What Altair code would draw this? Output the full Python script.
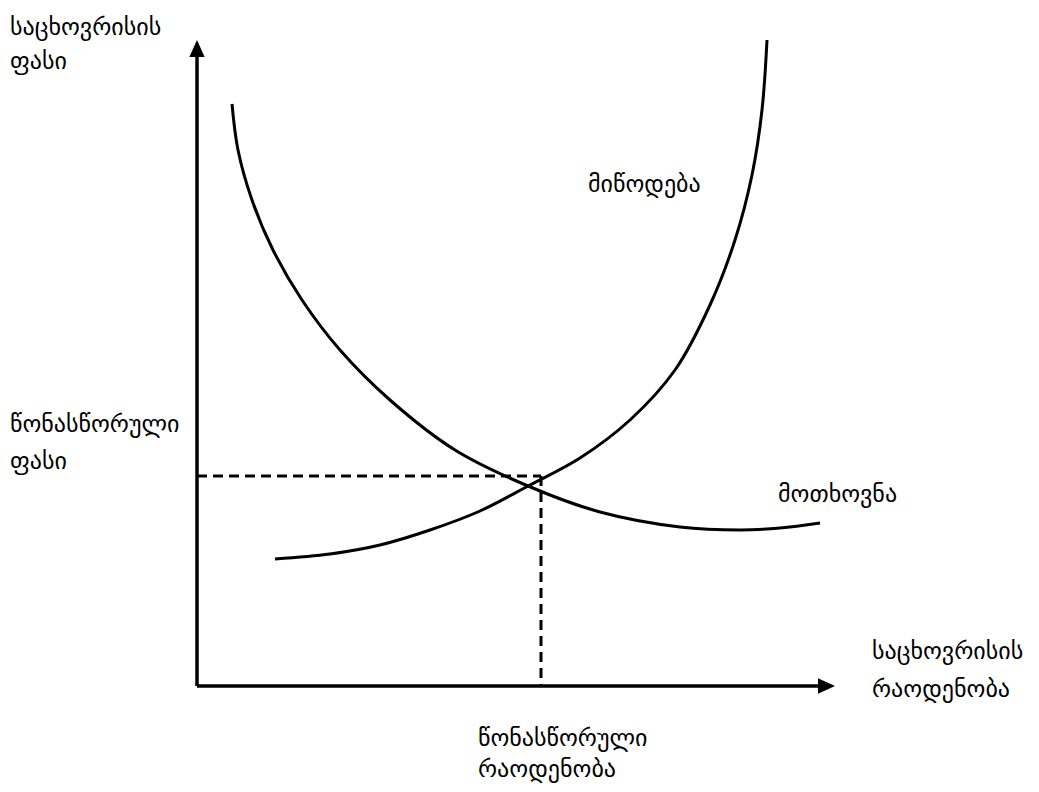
import altair as alt
import pandas as pd

# Coordinates: quantity (q) and price (p) (units ≈ pixels from origin)
supply_q = [78, 133, 183, 233, 283, 331, 383, 433, 478, 513, 538, 555, 565, 570]
supply_p = [127, 132, 141, 156, 175, 200, 228, 266, 316, 381, 446, 511, 576, 646]

demand_q = [35, 41, 55, 76, 105, 143, 193, 258, 331, 403, 483, 543, 583, 623]
demand_p = [582, 536, 486, 436, 386, 336, 286, 236, 200, 174, 159, 156, 158, 163]

eq_q = 344
eq_p = 210

axis_x_end = 621
axis_y_end = 629

label_text = ["საცხოვრისის", "ფასი", "წონასწორული", "ფასი", "მიწოდება", "მოთხოვნა",
              "საცხოვრისის", "რაოდენობა", "წონასწორული", "რაოდენობა"]
label_q = [-187, -187, -187, -187, 391, 581, 675, 675, 281, 281]
label_p = [658, 624, 261, 224, 501, 191, 34, -4, -53, -84]

X_DOMAIN = [-189, 834]
Y_DOMAIN = [-98, 678]
W, H = 1023, 776

xs = alt.Scale(domain=X_DOMAIN, nice=False, zero=False)
ys = alt.Scale(domain=Y_DOMAIN, nice=False, zero=False)

def X(field="q"):
    return alt.X(f"{field}:Q", scale=xs, axis=None)

def Y(field="p"):
    return alt.Y(f"{field}:Q", scale=ys, axis=None)

supply_df = pd.DataFrame({"q": supply_q, "p": supply_p})
demand_df = pd.DataFrame({"q": demand_q, "p": demand_p})

supply = alt.Chart(supply_df).mark_line(color="black", strokeWidth=3, interpolate="catmull-rom").encode(x=X(), y=Y())
demand = alt.Chart(demand_df).mark_line(color="black", strokeWidth=3, interpolate="catmull-rom").encode(x=X(), y=Y())

axes_df = pd.DataFrame({"q": [0, 0], "p": [0, 0], "q2": [axis_x_end, 0], "p2": [0, axis_y_end]})
axes = alt.Chart(axes_df).mark_rule(color="black", strokeWidth=3.5).encode(
    x=X(), y=Y(), x2="q2:Q", y2="p2:Q")

dash_df = pd.DataFrame({"q": [0, eq_q], "p": [eq_p, eq_p], "q2": [eq_q, eq_q], "p2": [eq_p, 0]})
dashes = alt.Chart(dash_df).mark_rule(color="black", strokeWidth=3, strokeDash=[10, 6]).encode(
    x=X(), y=Y(), x2="q2:Q", y2="p2:Q")

arrow_up_df = pd.DataFrame({"q": [0], "p": [axis_y_end]})
arrow_up = alt.Chart(arrow_up_df).mark_point(
    shape="M0,-2L0.9,0L-0.9,0Z", size=289, filled=True, color="black", opacity=1, strokeWidth=0
).encode(x=X(), y=Y())

arrow_right_df = pd.DataFrame({"q": [axis_x_end], "p": [0]})
arrow_right = alt.Chart(arrow_right_df).mark_point(
    shape="M2,0L0,-0.9L0,0.9Z", size=289, filled=True, color="black", opacity=1, strokeWidth=0
).encode(x=X(), y=Y())

labels_df = pd.DataFrame({"q": label_q, "p": label_p, "t": label_text})
labels = alt.Chart(labels_df).mark_text(
    align="left", baseline="middle", font="DejaVu Sans", fontSize=24, color="black"
).encode(x=X(), y=Y(), text="t:N")

chart = alt.layer(dashes, axes, supply, demand, arrow_up, arrow_right, labels).properties(
    width=W, height=H, padding=0, autosize=alt.AutoSizeParams(type="none"), background="white"
).configure_view(strokeWidth=0)

chart.save("out.html", embed_options={"renderer": "svg", "actions": False})
